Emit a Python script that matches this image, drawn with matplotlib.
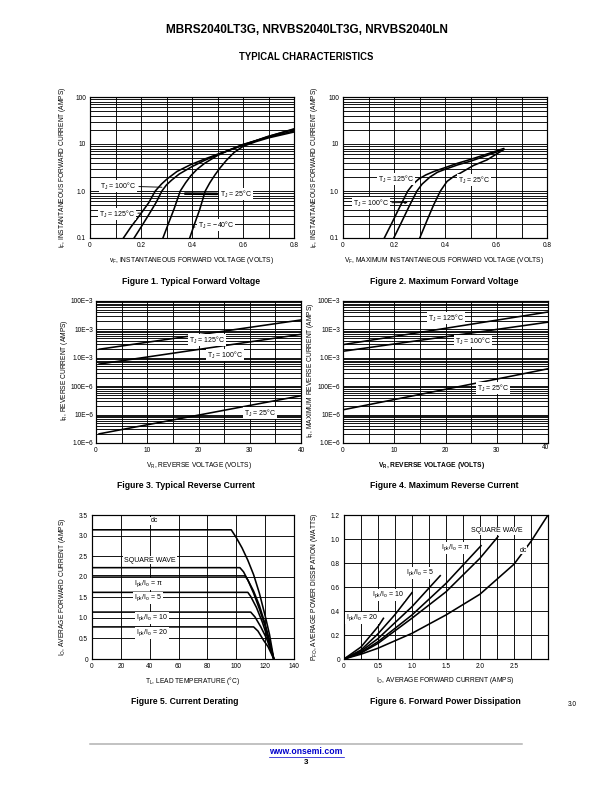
import numpy as np
import matplotlib
matplotlib.use("Agg")
import matplotlib.pyplot as plt
from matplotlib import font_manager
from matplotlib.ticker import FixedLocator, NullFormatter, LogLocator

W, H = 612, 792

names = {f.name for f in font_manager.fontManager.ttflist}
narrow = "Liberation Sans Narrow" if "Liberation Sans Narrow" in names else "Liberation Sans"
plt.rcParams["font.family"] = [narrow, "DejaVu Sans"]
plt.rcParams["mathtext.default"] = "regular"

# ---- Figure 1: typical forward voltage (V, A)
v125_1 = [0.131, 0.16, 0.197, 0.23, 0.256, 0.28, 0.302, 0.341, 0.393, 0.446, 0.498, 0.564, 0.603, 0.695, 0.80]
i125_1 = [0.1, 0.17, 0.316, 0.56, 1.0, 1.4, 1.8, 2.6, 3.6, 4.7, 6.0, 8.0, 9.5, 14.3, 20.5]
v100_1 = [0.173, 0.20, 0.23, 0.26, 0.282, 0.30, 0.32, 0.35, 0.40, 0.45, 0.50, 0.60, 0.70, 0.80]
i100_1 = [0.1, 0.17, 0.31, 0.58, 1.0, 1.35, 1.7, 2.3, 3.3, 4.5, 5.9, 9.6, 14.5, 21.0]
v25_1 = [0.286, 0.31, 0.33, 0.354, 0.375, 0.395, 0.42, 0.45, 0.50, 0.55, 0.60, 0.70, 0.80]
i25_1 = [0.1, 0.22, 0.42, 1.0, 1.5, 2.1, 2.9, 3.9, 5.7, 7.6, 9.8, 14.0, 19.0]
v40_1 = [0.391, 0.41, 0.43, 0.452, 0.47, 0.49, 0.51, 0.535, 0.565, 0.60, 0.65, 0.70, 0.80]
i40_1 = [0.1, 0.2, 0.4, 1.0, 1.5, 2.2, 3.1, 4.5, 6.6, 8.9, 11.2, 13.5, 18.0]

# ---- Figure 2: maximum forward voltage
v125_2 = [0.162, 0.19, 0.22, 0.254, 0.275, 0.297, 0.325, 0.356, 0.397, 0.45, 0.50, 0.56, 0.63]
i125_2 = [0.1, 0.2, 0.43, 1.0, 1.4, 1.8, 2.2, 2.6, 3.1, 3.9, 4.7, 6.0, 8.0]
v100_2 = [0.199, 0.23, 0.26, 0.29, 0.31, 0.342, 0.37, 0.397, 0.45, 0.50, 0.56, 0.63]
i100_2 = [0.1, 0.22, 0.48, 1.0, 1.4, 2.0, 2.5, 2.85, 3.6, 4.3, 5.6, 7.7]
v25_2 = [0.301, 0.33, 0.355, 0.382, 0.408, 0.435, 0.46, 0.512, 0.565, 0.63]
i25_2 = [0.1, 0.24, 0.5, 1.0, 1.6, 2.05, 2.4, 3.5, 4.6, 7.6]

# ---- Figure 3: typical reverse current (V, A)
vr3 = [0.6, 40]
ir125_3 = [2.0e-3, 21.5e-3]
ir100_3 = [0.6e-3, 6.7e-3]
ir25_3 = [2.1e-6, 46e-6]

# ---- Figure 4: maximum reverse current
vr4 = [0.2, 40]
ir125_4 = [2.95e-3, 41e-3]
ir100_4 = [1.72e-3, 18e-3]
ir25_4 = [15e-6, 0.41e-3]

# ---- Figure 5: current derating (degC, A)
t_dc = [0, 96.5, 100, 104, 108, 112, 116, 120, 123, 126]
io_dc = [3.14, 3.14, 2.95, 2.7, 2.4, 2.05, 1.6, 1.05, 0.6, 0]
t_sq = [0, 102.5, 105, 108, 112, 116, 120, 123, 126]
io_sq = [2.22, 2.22, 2.12, 1.92, 1.6, 1.22, 0.8, 0.42, 0]
t_pi = [0, 106, 108, 112, 116, 120, 123, 126]
io_pi = [2.02, 2.02, 1.92, 1.65, 1.3, 0.85, 0.45, 0]
t_5 = [0, 108, 110, 114, 118, 122, 126]
io_5 = [1.62, 1.62, 1.52, 1.25, 0.9, 0.48, 0]
t_10 = [0, 110, 113, 117, 121, 126]
io_10 = [1.14, 1.14, 1.02, 0.78, 0.5, 0]
t_20 = [0, 112, 115, 119, 122, 126]
io_20 = [0.78, 0.78, 0.68, 0.45, 0.3, 0]

# ---- Figure 6: forward power dissipation (A, W)
a_dc = [0, 0.25, 0.5, 1.0, 1.5, 2.0, 2.5, 2.75, 3.0]
p_dc = [0, 0.04, 0.09, 0.214, 0.367, 0.54, 0.79, 0.98, 1.2]
a_sq = [0, 0.25, 0.5, 1.0, 1.5, 2.0, 2.265]
p_sq = [0, 0.05, 0.13, 0.34, 0.56, 0.84, 1.02]
a_pi = [0, 0.25, 0.5, 1.0, 1.5, 2.015]
p_pi = [0, 0.055, 0.144, 0.367, 0.63, 0.944]
a_5 = [0, 0.25, 0.5, 1.0, 1.415]
p_5 = [0, 0.065, 0.17, 0.436, 0.694]
a_10 = [0, 0.25, 0.5, 0.75, 1.0]
p_10 = [0, 0.075, 0.21, 0.37, 0.553]
a_20 = [0, 0.25, 0.5, 0.58]
p_20 = [0, 0.1, 0.27, 0.339]

FS_TICK = 6.5
FS_LAB = 6.6
FS_IN = 7


def rect(x0, y0, x1, y1):
    return [x0 / W, 1 - y1 / H, (x1 - x0) / W, (y1 - y0) / H]


def ftext(x, y, s, **kw):
    kw.setdefault("ha", "center")
    kw.setdefault("va", "center")
    fig.text(x / W, 1 - y / H, s, **kw)


def style(ax):
    for sp in ax.spines.values():
        sp.set_linewidth(1.2)
    ax.tick_params(which="both", length=0, labelsize=FS_TICK, pad=4)
    ax.grid(which="both", color="black", linewidth=0.9)
    ax.set_axisbelow(True)


box = dict(facecolor="white", edgecolor="none", pad=0.8)
lw = 1.6
fig = plt.figure(figsize=(W / 72, H / 72), dpi=72)

# header
ftext(307, 30, "MBRS2040LT3G, NRVBS2040LT3G, NRVBS2040LN", fontsize=11.8,
      fontweight="bold", family="Liberation Sans")
ftext(306, 57, "TYPICAL CHARACTERISTICS", fontsize=9.5, fontweight="bold", family="Liberation Sans")

# Figure 1
ax1 = fig.add_axes(rect(90, 97, 294, 238))
ax1.set_yscale("log")
ax1.set_xlim(0, 0.8)
ax1.set_ylim(0.1, 100)
ax1.xaxis.set_major_locator(FixedLocator([0, 0.2, 0.4, 0.6, 0.8]))
ax1.xaxis.set_minor_locator(FixedLocator([0.1, 0.3, 0.5, 0.7]))
ax1.set_xticklabels(["0", "0.2", "0.4", "0.6", "0.8"])
ax1.yaxis.set_major_locator(FixedLocator([0.1, 1, 10, 100]))
ax1.yaxis.set_minor_locator(LogLocator(base=10, subs=np.arange(2, 10), numticks=50))
ax1.yaxis.set_minor_formatter(NullFormatter())
ax1.set_yticklabels(["0.1", "1.0", "10", "100"])
style(ax1)
for v, i in [(v125_1, i125_1), (v100_1, i100_1), (v25_1, i25_1), (v40_1, i40_1)]:
    ax1.plot(v, i, color="black", lw=lw)
ax1.annotate(r"T$_J$ = 100°C", xy=(0.29, 1.2), xytext=(118, H - 186), textcoords="figure pixels",
             fontsize=FS_IN, ha="center", va="center", bbox=box,
             arrowprops=dict(arrowstyle="-", lw=0.9, color="black"))
ax1.annotate(r"T$_J$ = 125°C", xy=(0.205, 0.34), xytext=(117, H - 214), textcoords="figure pixels",
             fontsize=FS_IN, ha="center", va="center", bbox=box,
             arrowprops=dict(arrowstyle="-", lw=0.9, color="black"))
ax1.annotate(r"T$_J$ = 25°C", xy=(0.365, 0.88), xytext=(236, H - 194), textcoords="figure pixels",
             fontsize=FS_IN, ha="center", va="center", bbox=box,
             arrowprops=dict(arrowstyle="-", lw=2.6, color="black"))
ax1.annotate(r"T$_J$ = −40°C", xy=(0.405, 0.17), xytext=(216, H - 225), textcoords="figure pixels",
             fontsize=FS_IN, ha="center", va="center", bbox=box,
             arrowprops=dict(arrowstyle="-", lw=0.9, color="black"))

# Figure 2
ax2 = fig.add_axes(rect(343, 97, 547, 238))
ax2.set_yscale("log")
ax2.set_xlim(0, 0.8)
ax2.set_ylim(0.1, 100)
ax2.xaxis.set_major_locator(FixedLocator([0, 0.2, 0.4, 0.6, 0.8]))
ax2.xaxis.set_minor_locator(FixedLocator([0.1, 0.3, 0.5, 0.7]))
ax2.set_xticklabels(["0", "0.2", "0.4", "0.6", "0.8"])
ax2.yaxis.set_major_locator(FixedLocator([0.1, 1, 10, 100]))
ax2.yaxis.set_minor_locator(LogLocator(base=10, subs=np.arange(2, 10), numticks=50))
ax2.yaxis.set_minor_formatter(NullFormatter())
ax2.set_yticklabels(["0.1", "1.0", "10", "100"])
style(ax2)
for v, i in [(v125_2, i125_2), (v100_2, i100_2), (v25_2, i25_2)]:
    ax2.plot(v, i, color="black", lw=lw)
ftext(396, 179, r"T$_J$ = 125°C", fontsize=FS_IN, bbox=box)
ftext(474, 180, r"T$_J$ = 25°C", fontsize=FS_IN, bbox=box)
ax2.annotate(r"T$_J$ = 100°C", xy=(0.262, 0.57), xytext=(371, H - 203), textcoords="figure pixels",
             fontsize=FS_IN, ha="center", va="center", bbox=box,
             arrowprops=dict(arrowstyle="-|>", lw=0.9, color="black", mutation_scale=5))

# Figure 3
rev_major = [1e-6, 1e-5, 1e-4, 1e-3, 1e-2, 1e-1]
rev_labels = ["1.0E−6", "10E−6", "100E−6", "1.0E−3", "10E−3", "100E−3"]
ax3 = fig.add_axes(rect(96, 301, 301, 443))
ax3.set_yscale("log")
ax3.set_xlim(0, 40)
ax3.set_ylim(1e-6, 1e-1)
ax3.xaxis.set_major_locator(FixedLocator([0, 10, 20, 30, 40]))
ax3.xaxis.set_minor_locator(FixedLocator([5, 15, 25, 35]))
ax3.set_xticklabels(["0", "10", "20", "30", "40"])
ax3.yaxis.set_major_locator(FixedLocator(rev_major))
ax3.yaxis.set_minor_locator(LogLocator(base=10, subs=np.arange(2, 10), numticks=50))
ax3.yaxis.set_minor_formatter(NullFormatter())
ax3.set_yticklabels(rev_labels)
style(ax3)
ax3.tick_params(axis="y", pad=3)
for i in [ir125_3, ir100_3, ir25_3]:
    ax3.plot(vr3, i, color="black", lw=lw)
ftext(207, 340, r"T$_J$ = 125°C", fontsize=FS_IN, bbox=box)
ftext(225, 355, r"T$_J$ = 100°C", fontsize=FS_IN, bbox=box)
ftext(260, 413, r"T$_J$ = 25°C", fontsize=FS_IN, bbox=box)

# Figure 4
ax4 = fig.add_axes(rect(343, 301, 548, 443))
ax4.set_yscale("log")
ax4.set_xlim(0, 40)
ax4.set_ylim(1e-6, 1e-1)
ax4.xaxis.set_major_locator(FixedLocator([0, 10, 20, 30]))
ax4.xaxis.set_minor_locator(FixedLocator([5, 15, 25, 35]))
ax4.set_xticklabels(["0", "10", "20", "30"])
ax4.yaxis.set_major_locator(FixedLocator(rev_major))
ax4.yaxis.set_minor_locator(LogLocator(base=10, subs=np.arange(2, 10), numticks=50))
ax4.yaxis.set_minor_formatter(NullFormatter())
ax4.set_yticklabels(rev_labels)
style(ax4)
ax4.tick_params(axis="y", pad=3)
for i in [ir125_4, ir100_4, ir25_4]:
    ax4.plot(vr4, i, color="black", lw=lw)
ftext(446, 318, r"T$_J$ = 125°C", fontsize=FS_IN, bbox=box)
ftext(473, 341, r"T$_J$ = 100°C", fontsize=FS_IN, bbox=box)
ftext(493, 388, r"T$_J$ = 25°C", fontsize=FS_IN, bbox=box)
ftext(546, 447, "40", fontsize=FS_TICK)

# Figure 5
ax5 = fig.add_axes(rect(92, 515, 294, 659))
ax5.set_xlim(0, 140)
ax5.set_ylim(0, 3.5)
ax5.set_xticks(np.arange(0, 141, 20))
ax5.set_yticks(np.arange(0, 3.51, 0.5))
ax5.set_yticklabels(["0", "0.5", "1.0", "1.5", "2.0", "2.5", "3.0", "3.5"])
style(ax5)
for t, i in [(t_dc, io_dc), (t_sq, io_sq), (t_pi, io_pi), (t_5, io_5), (t_10, io_10), (t_20, io_20)]:
    ax5.plot(t, i, color="black", lw=lw)
ftext(154, 521, "dc", fontsize=FS_IN, bbox=box)
ftext(150, 560, "SQUARE WAVE", fontsize=FS_IN, bbox=box)
ftext(148, 584, r"I$_{pk}$/I$_o$ = π", fontsize=FS_IN, bbox=box)
ftext(148, 598, r"I$_{pk}$/I$_o$ = 5", fontsize=FS_IN, bbox=box)
ftext(152, 618, r"I$_{pk}$/I$_o$ = 10", fontsize=FS_IN, bbox=box)
ftext(152, 633, r"I$_{pk}$/I$_o$ = 20", fontsize=FS_IN, bbox=box)

# Figure 6
ax6 = fig.add_axes(rect(344, 515, 548, 659))
ax6.set_xlim(0, 3.0)
ax6.set_ylim(0, 1.2)
ax6.xaxis.set_major_locator(FixedLocator([0, 0.5, 1.0, 1.5, 2.0, 2.5]))
ax6.xaxis.set_minor_locator(FixedLocator([0.25, 0.75, 1.25, 1.75, 2.25, 2.75]))
ax6.set_xticklabels(["0", "0.5", "1.0", "1.5", "2.0", "2.5"])
ax6.set_yticks(np.arange(0, 1.21, 0.2))
ax6.set_yticklabels(["0", "0.2", "0.4", "0.6", "0.8", "1.0", "1.2"])
style(ax6)
for a, p in [(a_dc, p_dc), (a_sq, p_sq), (a_pi, p_pi), (a_5, p_5), (a_10, p_10), (a_20, p_20)]:
    ax6.plot(a, p, color="black", lw=lw)
ftext(497, 531, "SQUARE WAVE", fontsize=FS_IN, bbox=box)
ftext(523, 550, "dc", fontsize=FS_IN, bbox=box)
ftext(455, 548, r"I$_{pk}$/I$_o$ = π", fontsize=FS_IN, bbox=box)
ftext(420, 573, r"I$_{pk}$/I$_o$ = 5", fontsize=FS_IN, bbox=box)
ftext(388, 595, r"I$_{pk}$/I$_o$ = 10", fontsize=FS_IN, bbox=box)
ftext(362, 618, r"I$_{pk}$/I$_o$ = 20", fontsize=FS_IN, bbox=box)
ftext(572, 704, "3.0", fontsize=FS_TICK)

# axis titles
ylabels = [(63, 167, r"i$_F$, INSTANTANEOUS FORWARD CURRENT (AMPS)"),
           (315, 167, r"i$_F$, INSTANTANEOUS FORWARD CURRENT (AMPS)"),
           (64, 370, r"I$_R$, REVERSE CURRENT (AMPS)"),
           (310, 370, r"I$_R$, MAXIMUM REVERSE CURRENT (AMPS)"),
           (63, 587, r"I$_O$, AVERAGE FORWARD CURRENT (AMPS)"),
           (315, 587, r"P$_{FO}$, AVERAGE POWER DISSIPATION (WATTS)")]
for x, y, s in ylabels:
    ftext(x, y, s, fontsize=FS_LAB, rotation=90)

xlabels = [(192, 261, r"v$_F$, INSTANTANEOUS FORWARD VOLTAGE (VOLTS)", "normal"),
           (444, 261, r"V$_F$, MAXIMUM INSTANTANEOUS FORWARD VOLTAGE (VOLTS)", "normal"),
           (199, 466, r"V$_R$, REVERSE VOLTAGE (VOLTS)", "normal"),
           (432, 466, r"V$_R$, REVERSE VOLTAGE (VOLTS)", "bold"),
           (193, 681, r"T$_L$, LEAD TEMPERATURE (°C)", "normal"),
           (445, 681, r"I$_O$, AVERAGE FORWARD CURRENT (AMPS)", "normal")]
for x, y, s, wt in xlabels:
    ftext(x, y, s, fontsize=FS_LAB, fontweight=wt)

captions = [(191, 281, "Figure 1. Typical Forward Voltage"),
            (444, 281, "Figure 2. Maximum Forward Voltage"),
            (186, 486, "Figure 3. Typical Reverse Current"),
            (444, 486, "Figure 4. Maximum Reverse Current"),
            (185, 701, "Figure 5. Current Derating"),
            (445, 701, "Figure 6. Forward Power Dissipation")]
for x, y, s in captions:
    ftext(x, y, s, fontsize=8.6, fontweight="bold", family="Liberation Sans")

# footer
fig.add_artist(plt.Line2D([90 / W, 522 / W], [1 - 744 / H, 1 - 744 / H], color="#b0b0b0", lw=1.5))
ftext(306, 752, "www.onsemi.com", fontsize=8.6, fontweight="bold", color="#0000cc",
      family="Liberation Sans")
fig.add_artist(plt.Line2D([269 / W, 344 / W], [1 - 757 / H, 1 - 757 / H], color="#0000cc", lw=0.7))
ftext(306, 763, "3", fontsize=8, fontweight="bold", family="Liberation Sans")

fig.savefig("out.png", dpi=72)
